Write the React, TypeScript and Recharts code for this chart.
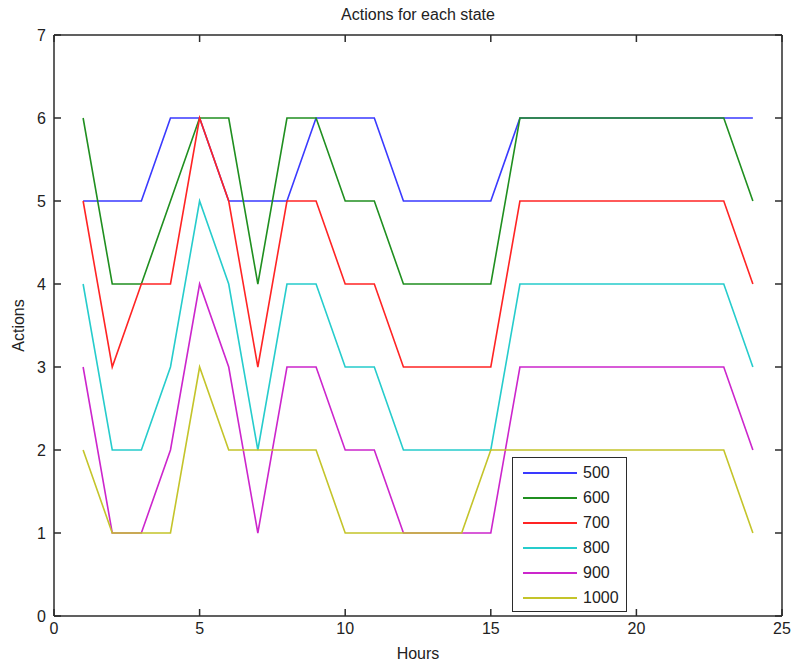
import { LineChart, Line, XAxis, YAxis, Legend } from "recharts";

// hours on the x axis
const hours = [1, 2, 3, 4, 5, 6, 7, 8, 9, 10, 11, 12, 13, 14, 15, 16, 17, 18, 19, 20, 21, 22, 23, 24];

// actions per state
const s500 = [5, 5, 5, 6, 6, 5, 5, 5, 6, 6, 6, 5, 5, 5, 5, 6, 6, 6, 6, 6, 6, 6, 6, 6];
const s600 = [6, 4, 4, 5, 6, 6, 4, 6, 6, 5, 5, 4, 4, 4, 4, 6, 6, 6, 6, 6, 6, 6, 6, 5];
const s700 = [5, 3, 4, 4, 6, 5, 3, 5, 5, 4, 4, 3, 3, 3, 3, 5, 5, 5, 5, 5, 5, 5, 5, 4];
const s800 = [4, 2, 2, 3, 5, 4, 2, 4, 4, 3, 3, 2, 2, 2, 2, 4, 4, 4, 4, 4, 4, 4, 4, 3];
const s900 = [3, 1, 1, 2, 4, 3, 1, 3, 3, 2, 2, 1, 1, 1, 1, 3, 3, 3, 3, 3, 3, 3, 3, 2];
const s1000 = [2, 1, 1, 1, 3, 2, 2, 2, 2, 1, 1, 1, 1, 1, 2, 2, 2, 2, 2, 2, 2, 2, 2, 1];

const xTicks = [0, 5, 10, 15, 20, 25];
const yTicks = [0, 1, 2, 3, 4, 5, 6, 7];

const series = [
  { key: "s500", name: "500", color: "#3a3aff", values: s500 },
  { key: "s600", name: "600", color: "#208f20", values: s600 },
  { key: "s700", name: "700", color: "#ff2424", values: s700 },
  { key: "s800", name: "800", color: "#26cccc", values: s800 },
  { key: "s900", name: "900", color: "#cc26cc", values: s900 },
  { key: "s1000", name: "1000", color: "#c4c42a", values: s1000 },
];

const data = hours.map((h, i) => {
  const row: any = { hour: h };
  series.forEach((s) => {
    row[s.key] = s.values[i];
  });
  return row;
});

const FONT = "'Liberation Sans', Arial, Helvetica, sans-serif";
const AXIS = "#2b2b2b";
const TEXT = "#222";

// legend in series order (recharts would sort it by name)
const LegendBox = () => (
  <div
    style={{
      width: 115,
      height: 155,
      boxSizing: "border-box",
      border: `1.5px solid ${AXIS}`,
      background: "#fff",
      paddingTop: 2,
      fontFamily: FONT,
      fontSize: 16,
      color: TEXT,
    }}
  >
    {series.map((s) => (
      <div key={s.key} style={{ display: "flex", alignItems: "center", height: 25 }}>
        <svg width={70} height={4} style={{ display: "block" }}>
          <line x1={10} y1={2} x2={64} y2={2} stroke={s.color} strokeWidth={2} />
        </svg>
        <span style={{ lineHeight: "25px" }}>{s.name}</span>
      </div>
    ))}
  </div>
);

export default function App() {
  return (
    <div style={{ position: "absolute", left: 0, top: 0, background: "#fff" }}>
      <LineChart
        width={794}
        height={667}
        data={data}
        margin={{ top: 34, right: 11, left: 14, bottom: 21 }}
        style={{ fontFamily: FONT }}
      >
        <XAxis
          dataKey="hour"
          type="number"
          domain={[0, 25]}
          ticks={xTicks}
          interval={0}
          height={30}
          stroke={AXIS}
          strokeWidth={1.5}
          tickSize={-7}
          tickMargin={14}
          tick={{ fill: TEXT, fontSize: 16 }}
          label={{ value: "Hours", position: "bottom", offset: 2, fill: TEXT, fontSize: 16 }}
        />
        <XAxis
          xAxisId="top"
          dataKey="hour"
          orientation="top"
          type="number"
          domain={[0, 25]}
          ticks={xTicks}
          interval={0}
          height={1}
          stroke={AXIS}
          strokeWidth={1.5}
          tickSize={-7}
          tick={{ fill: "none", fontSize: 1 }}
          tickFormatter={() => ""}
          label={{ value: "Actions for each state", position: "top", offset: 14, fill: TEXT, fontSize: 16 }}
        />
        <YAxis
          type="number"
          domain={[0, 7]}
          ticks={yTicks}
          interval={0}
          width={40}
          stroke={AXIS}
          strokeWidth={1.5}
          tickSize={-7}
          tickMargin={15}
          tick={{ fill: TEXT, fontSize: 16 }}
          label={{
            value: "Actions",
            angle: -90,
            position: "insideLeft",
            offset: 4,
            fill: TEXT,
            fontSize: 16,
            style: { textAnchor: "middle" },
          }}
        />
        <YAxis
          yAxisId="right"
          orientation="right"
          type="number"
          domain={[0, 7]}
          ticks={yTicks}
          interval={0}
          width={1}
          stroke={AXIS}
          strokeWidth={1.5}
          tickSize={-7}
          tick={{ fill: "none", fontSize: 1 }}
          tickFormatter={() => ""}
        />
        <Legend
          layout="vertical"
          align="center"
          verticalAlign="middle"
          content={<LegendBox />}
          wrapperStyle={{ left: 512, top: 457, width: 115, height: 155 }}
        />
        {/* invisible series so the top and right axes (the box) get drawn */}
        <Line
          xAxisId="top"
          yAxisId="right"
          dataKey="s500"
          stroke="none"
          dot={false}
          activeDot={false}
          legendType="none"
          isAnimationActive={false}
        />
        {series.map((s) => (
          <Line
            key={s.key}
            dataKey={s.key}
            name={s.name}
            type="linear"
            stroke={s.color}
            strokeWidth={1.6}
            dot={false}
            activeDot={false}
            isAnimationActive={false}
          />
        ))}
      </LineChart>
    </div>
  );
}
